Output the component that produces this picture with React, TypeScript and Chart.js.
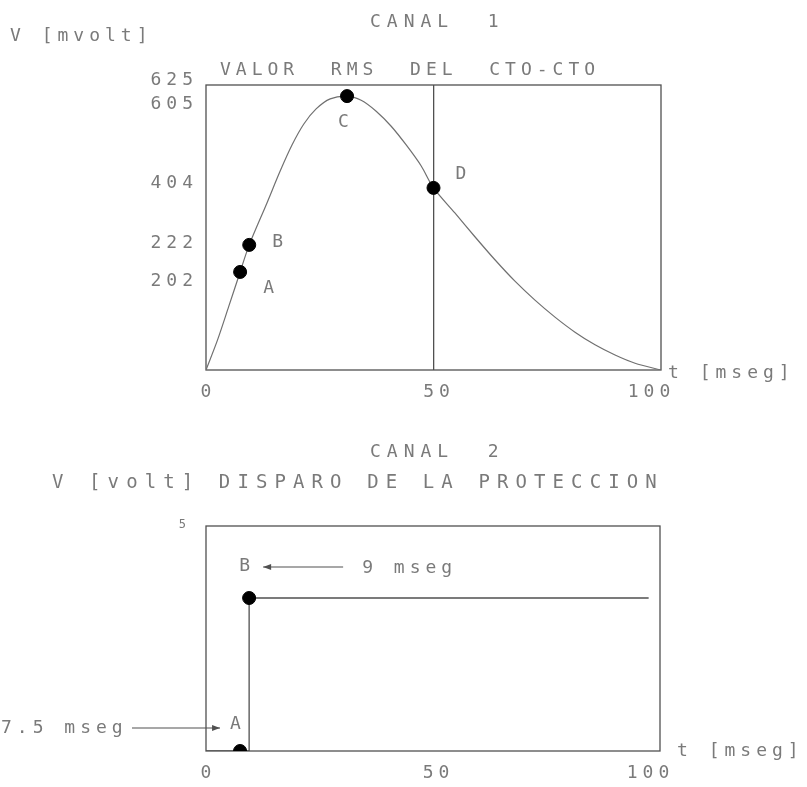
import React, { useEffect, useRef } from 'react';
import { Chart, registerables, LinearScale } from 'chart.js';

Chart.register(...registerables);

// ---------------- DATA: CANAL 1 (valor RMS del cto-cto) ----------------
const ch1Time = [0, 2.5, 5, 7.5, 9.5, 13.4, 16.3, 18.9, 21.5, 24.2, 27.3, 31, 34.1, 37.4, 40.7, 44.0, 47.3, 50, 54.7, 59.1, 63.5, 67.9, 72.3, 76.7, 81.1, 85.5, 89.9, 94.3, 100];
const ch1Volt = [0, 61, 131, 202, 222, 356, 441, 498, 544, 577, 599, 605, 596, 572, 539, 498, 452, 404, 324, 248, 211, 183, 144, 109, 78, 52, 31, 14, 0];
const ch1PointNames = ['A', 'B', 'C', 'D'];
const ch1PointTime = [7.5, 9.5, 31, 50];
const ch1PointVolt = [202, 222, 605, 404];
const ch1YTicks = [202, 222, 404, 605, 625];
const xTicks = [0, 50, 100];

// ---------------- DATA: CANAL 2 (disparo de la proteccion) ----------------
const ch2Time = [0, 9.5, 9.5, 97.5];
const ch2Volt = [0, 0, 3.4, 3.4];
const ch2PointNames = ['A', 'B'];
const ch2PointTime = [7.5, 9.5];
const ch2PointVolt = [0, 3.4];
const ch2YTicks = [5];
const ch2NoteTexts = ['7.5 mseg', '9 mseg'];

// ---------------- styling ----------------
const FONT = '"DejaVu Sans Mono", monospace';
const TEXT = '#7a7a7a';
const FRAME = '#505050';
const CURVE = '#707070';

// The hand-labelled voltage axis of CANAL 1 is not evenly spaced:
// each labelled value sits at its own fraction of the axis height.
const ch1AxisKnots = {
  values: [0, 202, 222, 404, 605, 625],
  fractions: [0, 0.344, 0.439, 0.639, 0.961, 1],
};

function interp(v: number, xs: number[], ys: number[]) {
  const n = xs.length - 1;
  if (v <= xs[0]) return ys[0] + ((v - xs[0]) * (ys[1] - ys[0])) / (xs[1] - xs[0]);
  for (let i = 1; i <= n; i++) {
    if (v <= xs[i]) return ys[i - 1] + ((v - xs[i - 1]) * (ys[i] - ys[i - 1])) / (xs[i] - xs[i - 1]);
  }
  return ys[n] + ((v - xs[n]) * (ys[n] - ys[n - 1])) / (xs[n] - xs[n - 1]);
}

class KnotScale extends LinearScale {
  static id = 'knot';
  static defaults = LinearScale.defaults;
  getPixelForValue(value: any) {
    if (value === undefined || value === null || isNaN(value)) return NaN;
    return this.getPixelForDecimal(interp(value, ch1AxisKnots.values, ch1AxisKnots.fractions));
  }
  getValueForPixel(pixel: number) {
    return interp(this.getDecimalForPixel(pixel), ch1AxisKnots.fractions, ch1AxisKnots.values);
  }
}
Chart.register(KnotScale as any);

const framePlugin = {
  id: 'frame',
  beforeDatasetsDraw(chart: any) {
    const { ctx, chartArea: a } = chart;
    ctx.save();
    ctx.strokeStyle = FRAME;
    ctx.lineWidth = 1.3;
    ctx.strokeRect(a.left, a.top, a.right - a.left, a.bottom - a.top);
    ctx.restore();
  },
};

function setText(ctx: any, size: number, spacing: number, align = 'left') {
  ctx.font = `${size}px ${FONT}`;
  ctx.fillStyle = TEXT;
  ctx.letterSpacing = `${spacing}px`;
  ctx.textBaseline = 'middle';
  ctx.textAlign = align;
}

// centred text that ignores the trailing letter-spacing
function centerText(ctx: any, s: string, x: number, y: number, spacing: number) {
  const w = ctx.measureText(s).width - spacing;
  ctx.fillText(s, x - w / 2, y);
}

function arrow(ctx: any, x1: number, x2: number, y: number) {
  ctx.save();
  ctx.strokeStyle = FRAME;
  ctx.fillStyle = FRAME;
  ctx.lineWidth = 1.2;
  ctx.beginPath();
  ctx.moveTo(x1, y);
  ctx.lineTo(x2, y);
  ctx.stroke();
  const d = x2 > x1 ? 1 : -1;
  ctx.beginPath();
  ctx.moveTo(x2, y);
  ctx.lineTo(x2 - d * 8, y - 3);
  ctx.lineTo(x2 - d * 8, y + 3);
  ctx.closePath();
  ctx.fill();
  ctx.restore();
}

// label nudges (the original labels are placed by hand)
const xLabelNudge = [0, 3, -12];
const ch1YLabelNudge = [9, -2, -5, 8, -5];
const ch1LabelOffsets = [[23, 16], [23, -3], [-9, 26], [22, -14]];

function drawXLabels(ctx: any, x: any, y0: number) {
  setText(ctx, 18, 5);
  xTicks.forEach((v, i) => {
    centerText(ctx, String(v), x.getPixelForValue(v) + xLabelNudge[i], y0, 5);
  });
}

const ch1NotesPlugin = {
  id: 'ch1Notes',
  afterDraw(chart: any) {
    const ctx = chart.ctx;
    const x = chart.scales.x;
    const y = chart.scales.y;
    ctx.save();
    drawXLabels(ctx, x, x.top + 22);
    setText(ctx, 18, 5, 'right');
    ch1YTicks.forEach((v, i) => {
      ctx.fillText(String(v), x.left - 8, y.getPixelForValue(v) + ch1YLabelNudge[i]);
    });
    setText(ctx, 18, 6);
    ctx.fillText('CANAL  1', 370, 22);
    setText(ctx, 18, 5);
    ctx.fillText('V [mvolt]', 10, 36);
    ctx.fillText('VALOR  RMS  DEL  CTO-CTO', 220, 70);
    ctx.fillText('t [mseg]', 668, 373);
    ch1PointNames.forEach((n, i) => {
      const px = x.getPixelForValue(ch1PointTime[i]);
      const py = y.getPixelForValue(ch1PointVolt[i]);
      ctx.fillText(n, px + ch1LabelOffsets[i][0], py + ch1LabelOffsets[i][1]);
    });
    ctx.restore();
  },
};

const ch2NotesPlugin = {
  id: 'ch2Notes',
  afterDraw(chart: any) {
    const ctx = chart.ctx;
    const x = chart.scales.x;
    const y = chart.scales.y;
    ctx.save();
    drawXLabels(ctx, x, x.top + 22);
    setText(ctx, 12, 3, 'right');
    ch2YTicks.forEach((v) => {
      ctx.fillText(String(v), x.left - 17, y.getPixelForValue(v) - 1);
    });
    setText(ctx, 18, 6);
    ctx.fillText('CANAL  2', 370, 52);
    setText(ctx, 18, 5);
    ctx.fillText('t [mseg]', 677, 351);
    // A
    const ax = x.getPixelForValue(ch2PointTime[0]);
    const ay = y.getPixelForValue(ch2PointVolt[0]);
    ctx.fillText(ch2PointNames[0], ax - 10, ay - 27);
    ctx.fillText(ch2NoteTexts[0], 1, ay - 23);
    arrow(ctx, 132, ax - 20, ay - 23);
    // B
    const bx = x.getPixelForValue(ch2PointTime[1]);
    const by = y.getPixelForValue(ch2PointVolt[1]);
    ctx.fillText(ch2PointNames[1], bx - 10, by - 32);
    arrow(ctx, bx + 94, bx + 14, by - 31);
    ctx.fillText(ch2NoteTexts[1], bx + 113, by - 30);
    setText(ctx, 19, 7.1);
    ctx.fillText('V [volt] DISPARO DE LA PROTECCION', 52, 83);
    ctx.restore();
  },
};

function xScale(height: number) {
  return {
    type: 'linear',
    min: 0,
    max: 100,
    afterBuildTicks: (s: any) => {
      s.ticks = xTicks.map((v) => ({ value: v }));
    },
    afterFit: (s: any) => {
      s.height = height;
    },
    ticks: { display: false },
    border: { display: false },
  };
}

export default function App() {
  const topRef = useRef<HTMLCanvasElement>(null);
  const botRef = useRef<HTMLCanvasElement>(null);

  useEffect(() => {
    const top = new Chart(topRef.current as HTMLCanvasElement, {
      type: 'line',
      data: {
        datasets: [
          {
            data: ch1Time.map((t, i) => ({ x: t, y: ch1Volt[i] })),
            borderColor: CURVE,
            borderWidth: 1.2,
            pointRadius: 0,
            tension: 0.3,
            fill: false,
            order: 2,
          },
          {
            data: ch1PointTime.map((t, i) => ({ x: t, y: ch1PointVolt[i] })),
            showLine: false,
            pointRadius: 6.5,
            pointBackgroundColor: '#000',
            pointBorderColor: '#000',
            order: 1,
          },
        ],
      } as any,
      options: {
        responsive: false,
        animation: false,
        devicePixelRatio: 1,
        layout: { padding: { left: 0, top: 85, right: 146, bottom: 0 } },
        plugins: { legend: { display: false }, tooltip: { enabled: false } },
        scales: {
          x: {
            ...xScale(40),
            grid: {
              drawTicks: false,
              lineWidth: 1.3,
              color: (c: any) => (c.tick && c.tick.value === 50 ? FRAME : 'rgba(0,0,0,0)'),
            },
          },
          y: {
            type: 'knot',
            min: 0,
            max: 625,
            afterBuildTicks: (s: any) => {
              s.ticks = ch1YTicks.map((v) => ({ value: v }));
            },
            afterFit: (s: any) => {
              s.width = 206;
            },
            ticks: { display: false },
            grid: { display: false, drawTicks: false },
            border: { display: false },
          },
        },
      } as any,
      plugins: [framePlugin, ch1NotesPlugin],
    });

    const bot = new Chart(botRef.current as HTMLCanvasElement, {
      type: 'line',
      data: {
        datasets: [
          {
            data: ch2Time.map((t, i) => ({ x: t, y: ch2Volt[i] })),
            borderColor: FRAME,
            borderWidth: 1.3,
            pointRadius: 0,
            tension: 0,
            fill: false,
            order: 2,
          },
          {
            data: ch2PointTime.map((t, i) => ({ x: t, y: ch2PointVolt[i] })),
            showLine: false,
            pointRadius: 6.5,
            pointBackgroundColor: '#000',
            pointBorderColor: '#000',
            order: 1,
          },
        ],
      } as any,
      options: {
        responsive: false,
        animation: false,
        devicePixelRatio: 1,
        layout: { padding: { left: 0, top: 126, right: 147, bottom: 0 } },
        plugins: { legend: { display: false }, tooltip: { enabled: false } },
        scales: {
          x: { ...xScale(36), grid: { display: false, drawTicks: false } },
          y: {
            type: 'linear',
            min: 0,
            max: 5,
            afterBuildTicks: (s: any) => {
              s.ticks = ch2YTicks.map((v) => ({ value: v }));
            },
            afterFit: (s: any) => {
              s.width = 206;
            },
            ticks: { display: false },
            grid: { display: false, drawTicks: false },
            border: { display: false },
          },
        },
      } as any,
      plugins: [framePlugin, ch2NotesPlugin],
    });

    return () => {
      top.destroy();
      bot.destroy();
    };
  }, []);

  return (
    <div style={{ position: 'fixed', left: 0, top: 0, width: 807, height: 787, background: '#fff', overflow: 'hidden' }}>
      <canvas ref={topRef} width={807} height={410} style={{ position: 'absolute', left: 0, top: 0, width: 807, height: 410 }} />
      <canvas ref={botRef} width={807} height={387} style={{ position: 'absolute', left: 0, top: 400, width: 807, height: 387 }} />
    </div>
  );
}
